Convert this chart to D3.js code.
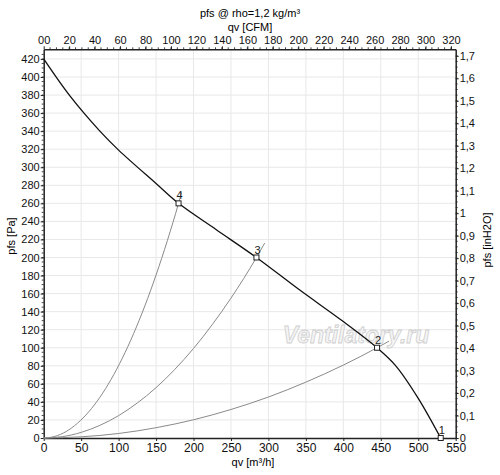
<!DOCTYPE html>
<html>
<head>
<meta charset="utf-8">
<script src="https://cdn.jsdelivr.net/npm/d3@7"></script>
<style>
  body { margin: 0; background: #fff; }
  text { font-family: "Liberation Sans", Arial, sans-serif; }
</style>
</head>
<body>
<div id="container"></div>
<script>
// fan curve (qv m3/h, pfs Pa)
const fanQ = [0, 35, 75, 100, 150, 180, 230, 284, 340, 400, 445, 470, 500, 530];
const fanP = [420, 379, 340, 319, 282, 260, 231, 200, 165, 129, 100, 80, 44, 0];

// operating points 1..4
const pointIds = ["1", "2", "3", "4"];
const pointQ = [530, 445, 284, 180];
const pointP = [0, 100, 200, 260];

// system curves through points 2, 3, 4
const sys2Q = [0, 50, 100, 150, 200, 250, 300, 350, 400, 445, 461];
const sys2P = [0, 1.3, 5, 11.4, 20.2, 31.6, 45.4, 61.9, 80.8, 100, 107.3];
const sys3Q = [0, 25, 50, 75, 100, 125, 150, 175, 200, 225, 250, 284, 295];
const sys3P = [0, 1.5, 6.2, 14, 24.8, 38.8, 55.8, 76, 99.2, 125.6, 155, 200, 216];
const sys4Q = [0, 15, 30, 45, 60, 75, 90, 105, 120, 135, 150, 165, 180, 184];
const sys4P = [0, 1.8, 7.2, 16.3, 28.9, 45.1, 65, 88.5, 115.6, 146.3, 180.6, 218.5, 260, 272];

const bottomTicks = [0, 50, 100, 150, 200, 250, 300, 350, 400, 450, 500, 550];
const topTicks = [0, 20, 40, 60, 80, 100, 120, 140, 160, 180, 200, 220, 240, 260, 280, 300, 320];
const leftTicks = d3.range(0, 421, 20);
const rightTicks = [0, 0.1, 0.2, 0.3, 0.4, 0.5, 0.6, 0.7, 0.8, 0.9, 1, 1.1, 1.2, 1.3, 1.4, 1.5, 1.6, 1.7];

const width = 500, height = 475;
const margin = { top: 49.3, right: 44.3, bottom: 37, left: 43.7 };
const qMax = 550, pMax = 430.7;
const CFM = 0.58858, INH2O = 249.089;

const svg = d3.select("#container").append("svg")
  .attr("width", width).attr("height", height);

const x = d3.scaleLinear().domain([0, qMax]).range([margin.left, width - margin.right]);
const y = d3.scaleLinear().domain([0, pMax]).range([height - margin.bottom, margin.top]);
const xTop = d3.scaleLinear().domain([0, qMax * CFM]).range(x.range());
const yRight = d3.scaleLinear().domain([0, pMax / INH2O]).range(y.range());

const comma = d => String(d).replace(".", ",");

// grid
svg.append("g").selectAll("line.vg")
  .data(bottomTicks.slice(1, -1))
  .join("line")
  .attr("x1", d => x(d)).attr("x2", d => x(d))
  .attr("y1", margin.top).attr("y2", height - margin.bottom)
  .attr("stroke", "#e8e8e8");
svg.append("g").selectAll("line.hg")
  .data(leftTicks.slice(1))
  .join("line")
  .attr("y1", d => y(d)).attr("y2", d => y(d))
  .attr("x1", margin.left).attr("x2", width - margin.right)
  .attr("stroke", "#e8e8e8");

// watermark
svg.append("text")
  .attr("x", 356).attr("y", 343)
  .attr("text-anchor", "middle")
  .style("font-size", "23px")
  .style("font-style", "italic")
  .style("font-weight", "bold")
  .attr("fill", "#f4f4f4")
  .attr("stroke", "#cfcfcf")
  .attr("stroke-width", 0.8)
  .text("Ventilatory.ru");

// axes
function styleAxis(g) {
  g.select(".domain").attr("stroke", "#222").attr("stroke-width", 1.5);
  g.selectAll(".tick line").attr("stroke", "#222");
  g.selectAll(".tick text").style("font-size", "11px").attr("fill", "#111");
}

function minor(scale, vals, orient, len) {
  const g = svg.append("g");
  g.selectAll("line").data(vals).join("line")
    .attr("stroke", "#444")
    .each(function (d) {
      const s = d3.select(this);
      if (orient === "left") s.attr("x1", margin.left).attr("x2", margin.left - len).attr("y1", scale(d)).attr("y2", scale(d));
      if (orient === "right") s.attr("x1", width - margin.right).attr("x2", width - margin.right + len).attr("y1", scale(d)).attr("y2", scale(d));
      if (orient === "top") s.attr("y1", margin.top).attr("y2", margin.top - len).attr("x1", scale(d)).attr("x2", scale(d));
    });
}
minor(y, d3.range(5, 430, 5), "left", 2);
minor(yRight, d3.range(0.025, 1.72, 0.025), "right", 2);
minor(xTop, d3.range(5, 324, 5), "top", 2);

svg.append("g")
  .attr("transform", `translate(0,${height - margin.bottom})`)
  .call(d3.axisBottom(x).tickValues(bottomTicks).tickSize(3).tickSizeOuter(0).tickPadding(2))
  .call(styleAxis)
  .call(g => g.selectAll(".tick text").style("font-size", "12px"));

svg.append("g")
  .attr("transform", `translate(0,${margin.top})`)
  .call(d3.axisTop(xTop).tickValues(topTicks).tickSize(3).tickSizeOuter(0).tickPadding(2)
    .tickFormat(d => d === 0 ? "00" : d))
  .call(styleAxis);

svg.append("g")
  .attr("transform", `translate(${margin.left},0)`)
  .call(d3.axisLeft(y).tickValues(leftTicks).tickSize(3).tickSizeOuter(0).tickPadding(1))
  .call(styleAxis);

svg.append("g")
  .attr("transform", `translate(${width - margin.right},0)`)
  .call(d3.axisRight(yRight).tickValues(rightTicks).tickSize(3).tickSizeOuter(0).tickPadding(1)
    .tickFormat(comma))
  .call(styleAxis);

// axis titles
svg.append("text").attr("x", 250).attr("y", 17).attr("text-anchor", "middle")
  .style("font-size", "11px").text("pfs @ rho=1,2 kg/m³");
svg.append("text").attr("x", 250).attr("y", 31).attr("text-anchor", "middle")
  .style("font-size", "11px").text("qv [CFM]");
svg.append("text").attr("x", 253).attr("y", 466).attr("text-anchor", "middle")
  .style("font-size", "11px").text("qv [m³/h]");
svg.append("text").attr("transform", "translate(15,236) rotate(-90)").attr("text-anchor", "middle")
  .style("font-size", "11px").text("pfs [Pa]");
svg.append("text").attr("transform", "translate(491,240) rotate(-90)").attr("text-anchor", "middle")
  .style("font-size", "11px").text("pfs [inH2O]");

// curves
const line = d3.line().x(d => x(d[0])).y(d => y(d[1])).curve(d3.curveMonotoneX);
[[sys2Q, sys2P], [sys3Q, sys3P], [sys4Q, sys4P]].forEach(([q, p]) => {
  svg.append("path")
    .datum(q.map((v, i) => [v, p[i]]))
    .attr("d", line)
    .attr("fill", "none")
    .attr("stroke", "#8a8a8a")
    .attr("stroke-width", 1);
});

svg.append("path")
  .datum(fanQ.map((v, i) => [v, fanP[i]]))
  .attr("d", d3.line().x(d => x(d[0])).y(d => y(d[1])).curve(d3.curveCatmullRom.alpha(0.5)))
  .attr("fill", "none")
  .attr("stroke", "#111")
  .attr("stroke-width", 1.3);

// operating points
svg.selectAll("rect.pt")
  .data(pointQ)
  .join("rect")
  .attr("class", "pt")
  .attr("x", d => x(d) - 2.5)
  .attr("y", (d, i) => y(pointP[i]) - 2.5)
  .attr("width", 5).attr("height", 5)
  .attr("fill", "#fff").attr("stroke", "#222").attr("stroke-width", 1);

svg.selectAll("text.ptl")
  .data(pointIds)
  .join("text")
  .attr("class", "ptl")
  .attr("x", (d, i) => x(pointQ[i]) + 1)
  .attr("y", (d, i) => y(pointP[i]) - 4)
  .attr("text-anchor", "middle")
  .style("font-size", "11px")
  .attr("fill", "#222")
  .text(d => d);
</script>
</body>
</html>
